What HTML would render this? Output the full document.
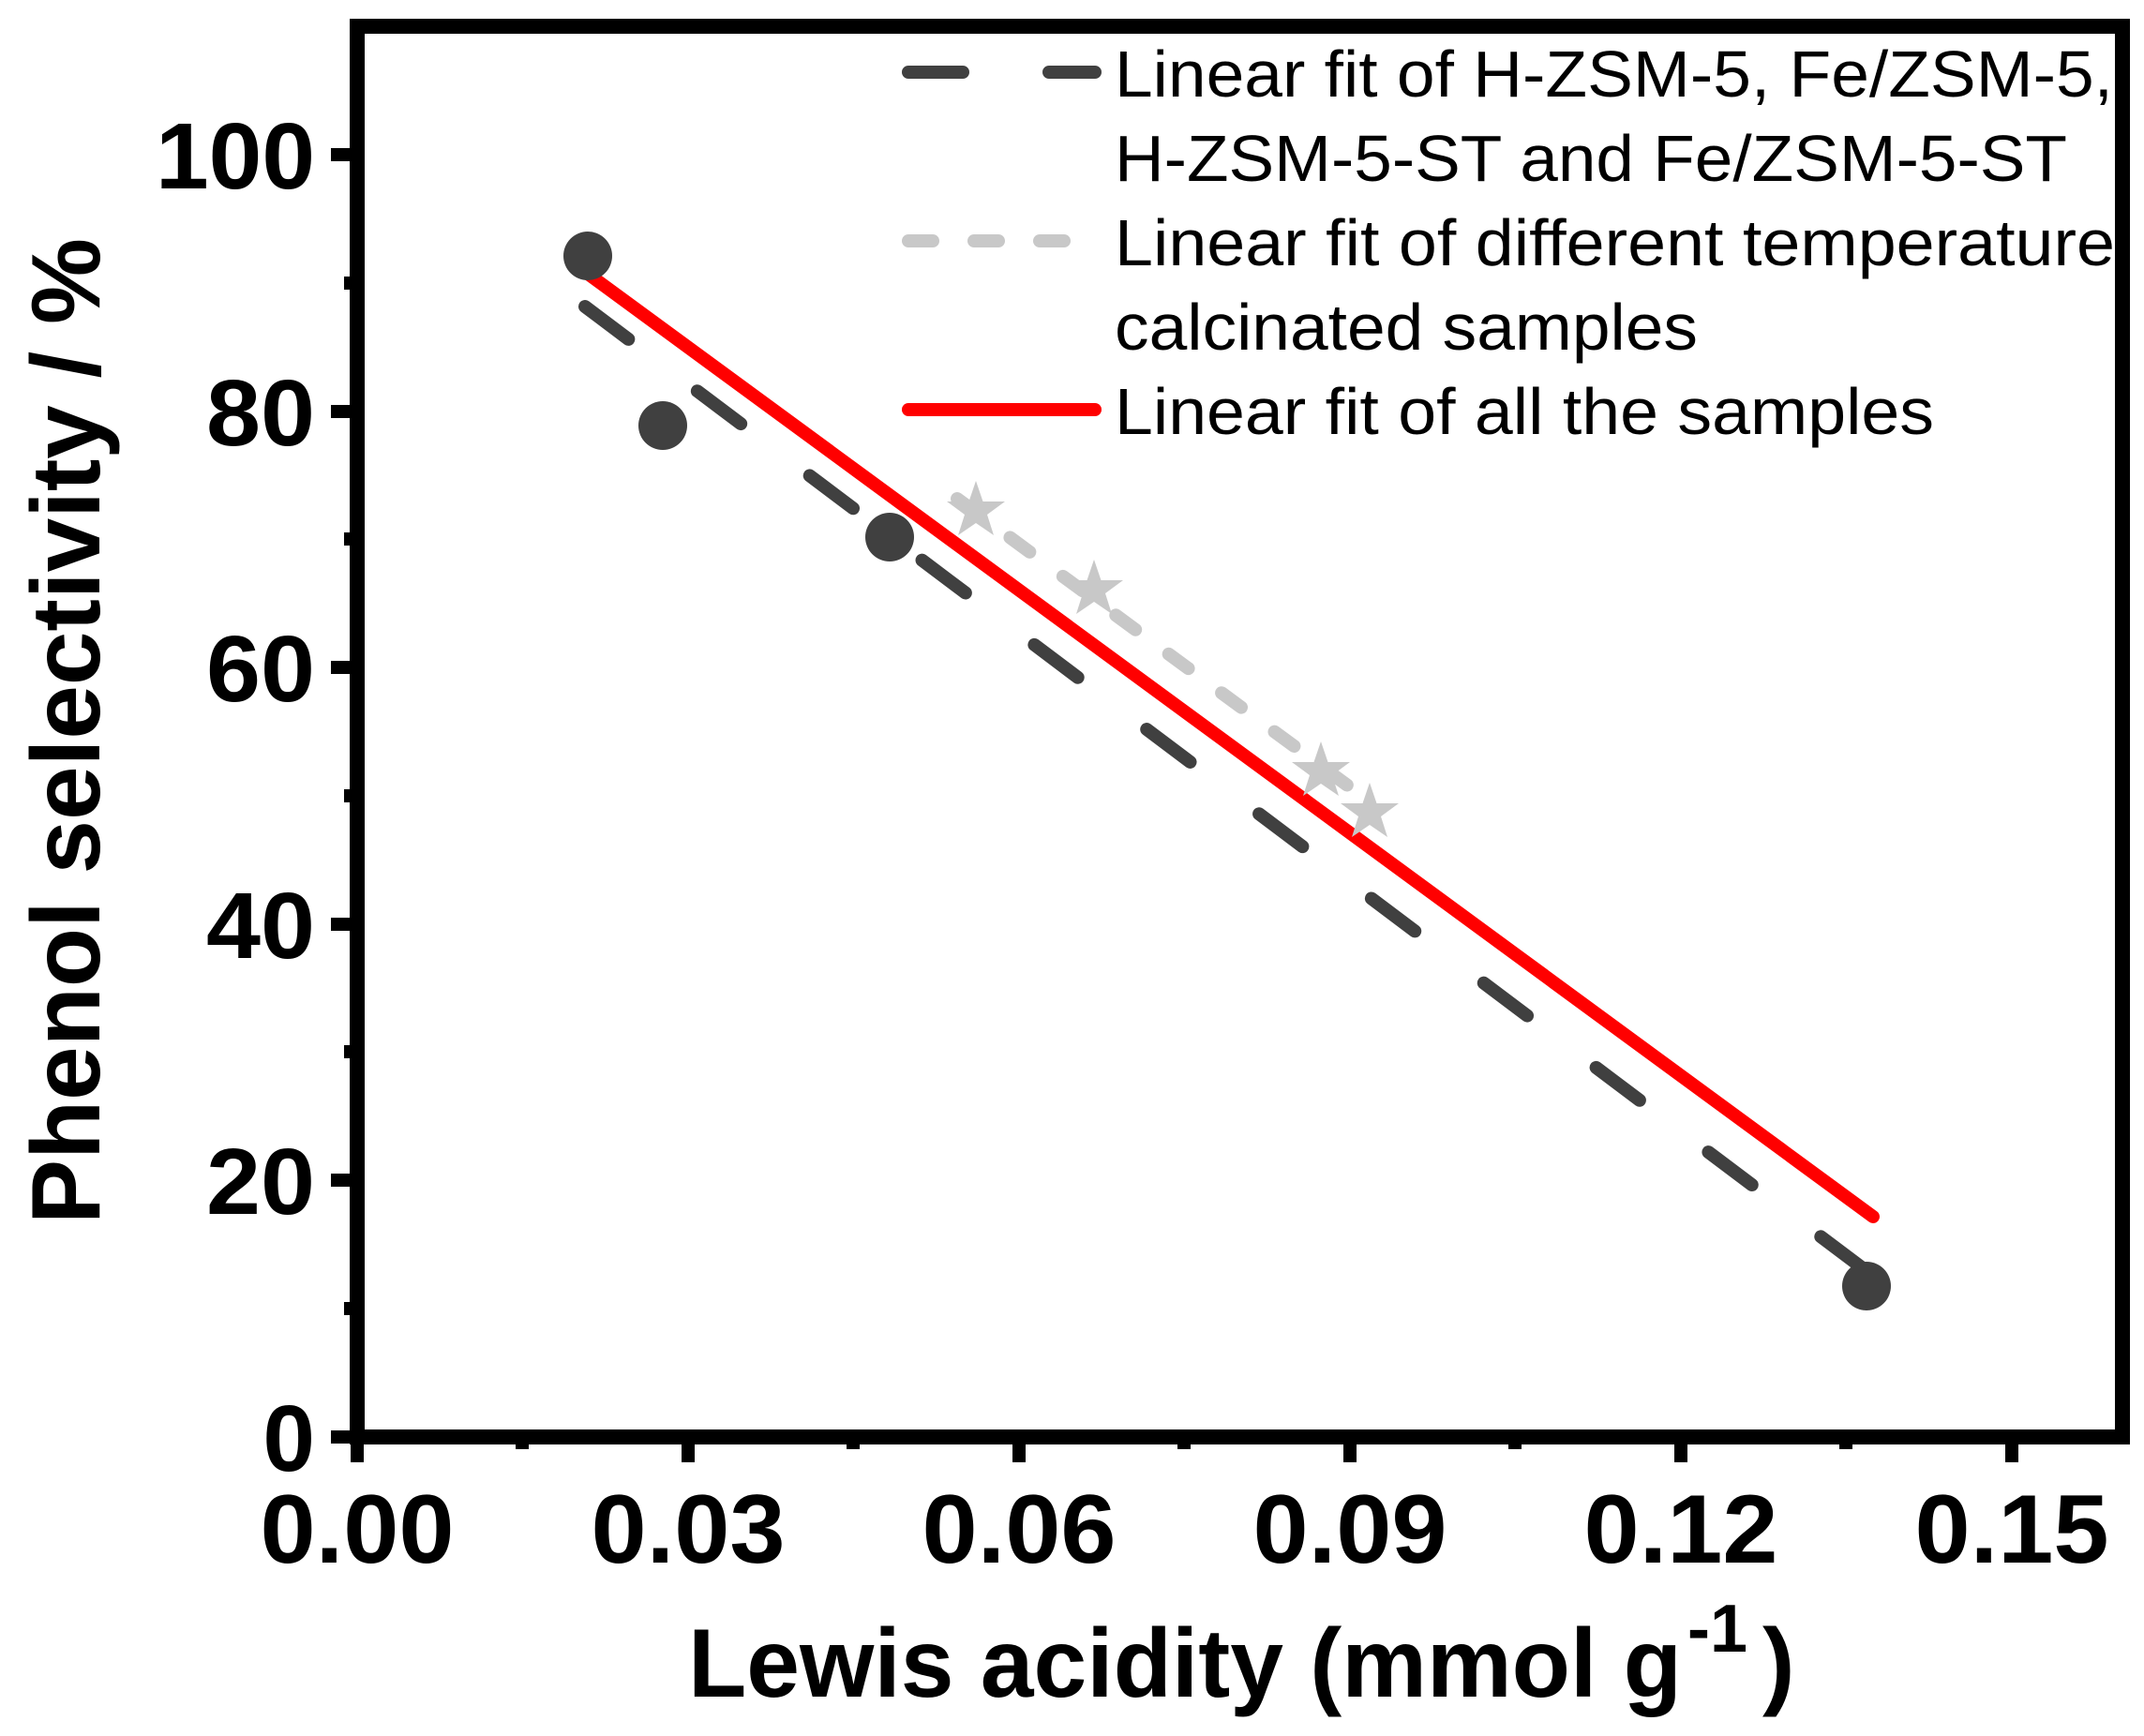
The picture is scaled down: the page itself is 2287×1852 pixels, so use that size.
<!DOCTYPE html>
<html><head><meta charset="utf-8"><style>html,body{margin:0;padding:0;background:#fff}svg{display:block}</style></head>
<body>
<svg width="2287" height="1852" viewBox="0 0 2287 1852" xmlns="http://www.w3.org/2000/svg">
<rect width="2287" height="1852" fill="#fff"/>
<!-- frame -->
<rect x="381" y="28" width="1883" height="1505" fill="none" stroke="#000" stroke-width="16"/>
<!-- x ticks -->
<g stroke="#000" stroke-width="14">
<line x1="381" y1="1533" x2="381" y2="1560"/>
<line x1="734" y1="1533" x2="734" y2="1560"/>
<line x1="1087" y1="1533" x2="1087" y2="1560"/>
<line x1="1440" y1="1533" x2="1440" y2="1560"/>
<line x1="1793" y1="1533" x2="1793" y2="1560"/>
<line x1="2146" y1="1533" x2="2146" y2="1560"/>
<line x1="557" y1="1533" x2="557" y2="1546"/>
<line x1="910" y1="1533" x2="910" y2="1546"/>
<line x1="1263" y1="1533" x2="1263" y2="1546"/>
<line x1="1616" y1="1533" x2="1616" y2="1546"/>
<line x1="1969" y1="1533" x2="1969" y2="1546"/>
</g>
<!-- y ticks -->
<g stroke="#000" stroke-width="14">
<line x1="353" y1="1533" x2="381" y2="1533"/>
<line x1="353" y1="1259" x2="381" y2="1259"/>
<line x1="353" y1="986" x2="381" y2="986"/>
<line x1="353" y1="712" x2="381" y2="712"/>
<line x1="353" y1="439" x2="381" y2="439"/>
<line x1="353" y1="165" x2="381" y2="165"/>
<line x1="367" y1="1396" x2="381" y2="1396"/>
<line x1="367" y1="1122" x2="381" y2="1122"/>
<line x1="367" y1="849" x2="381" y2="849"/>
<line x1="367" y1="575" x2="381" y2="575"/>
<line x1="367" y1="302" x2="381" y2="302"/>
</g>
<!-- tick labels -->
<g font-family="Liberation Sans, sans-serif" font-weight="bold" font-size="104" fill="#000" text-anchor="middle">
<text x="381" y="1667" textLength="207" lengthAdjust="spacingAndGlyphs">0.00</text>
<text x="734" y="1667" textLength="207" lengthAdjust="spacingAndGlyphs">0.03</text>
<text x="1087" y="1667" textLength="207" lengthAdjust="spacingAndGlyphs">0.06</text>
<text x="1440" y="1667" textLength="207" lengthAdjust="spacingAndGlyphs">0.09</text>
<text x="1793" y="1667" textLength="207" lengthAdjust="spacingAndGlyphs">0.12</text>
<text x="2146" y="1667" textLength="207" lengthAdjust="spacingAndGlyphs">0.15</text>
</g>
<g font-family="Liberation Sans, sans-serif" font-weight="bold" font-size="100" fill="#000" text-anchor="end">
<text x="336" y="1569">0</text>
<text x="336" y="1295" textLength="116" lengthAdjust="spacingAndGlyphs">20</text>
<text x="336" y="1022" textLength="116" lengthAdjust="spacingAndGlyphs">40</text>
<text x="336" y="748" textLength="116" lengthAdjust="spacingAndGlyphs">60</text>
<text x="336" y="475" textLength="116" lengthAdjust="spacingAndGlyphs">80</text>
<text x="336" y="201" textLength="170" lengthAdjust="spacingAndGlyphs">100</text>
</g>
<!-- axis titles -->
<text transform="translate(106,1306) rotate(-90)" font-family="Liberation Sans, sans-serif" font-weight="bold" font-size="104" textLength="1052" lengthAdjust="spacingAndGlyphs">Phenol selectivity / %</text>
<text x="734" y="1810" font-family="Liberation Sans, sans-serif" font-weight="bold" font-size="104" textLength="1060" lengthAdjust="spacingAndGlyphs">Lewis acidity (mmol g</text>
<text x="1800" y="1762" font-family="Liberation Sans, sans-serif" font-weight="bold" font-size="72">-1</text>
<text x="1880" y="1810" font-family="Liberation Sans, sans-serif" font-weight="bold" font-size="104">)</text>
<!-- fit lines -->
<line x1="624" y1="327" x2="1991" y2="1356" stroke="#404040" stroke-width="14" stroke-linecap="round" stroke-dasharray="58 92"/>
<line x1="1021" y1="532" x2="1458" y2="853" stroke="#c8c8c8" stroke-width="14" stroke-linecap="round" stroke-dasharray="26 44"/>
<line x1="627" y1="292" x2="1998" y2="1298" stroke="#ff0000" stroke-width="14" stroke-linecap="round"/>
<!-- circles -->
<g fill="#404040">
<circle cx="627" cy="273" r="26"/>
<circle cx="707" cy="454" r="26"/>
<circle cx="949" cy="573" r="26"/>
<circle cx="1991" cy="1372" r="26"/>
</g>
<!-- stars -->
<defs><polygon id="st" points="0,-32 7.5,-10 31,-10 12,4 19,26 0,13 -19,26 -12,4 -31,-10 -7.5,-10"/></defs>
<g fill="#c8c8c8">
<use href="#st" x="1041" y="545"/>
<use href="#st" x="1167" y="629"/>
<use href="#st" x="1409" y="823"/>
<use href="#st" x="1461" y="867"/>
</g>
<!-- legend -->
<line x1="969" y1="77" x2="1168" y2="77" stroke="#404040" stroke-width="14" stroke-linecap="round" stroke-dasharray="58 92"/>
<line x1="969" y1="257" x2="1168" y2="257" stroke="#c8c8c8" stroke-width="14" stroke-linecap="round" stroke-dasharray="26 44"/>
<line x1="969" y1="437" x2="1168" y2="437" stroke="#ff0000" stroke-width="14" stroke-linecap="round"/>
<g font-family="Liberation Sans, sans-serif" font-size="70" fill="#000">
<text x="1189" y="103" textLength="1065" lengthAdjust="spacingAndGlyphs">Linear fit of H-ZSM-5, Fe/ZSM-5,</text>
<text x="1189" y="193" textLength="1016" lengthAdjust="spacingAndGlyphs">H-ZSM-5-ST and Fe/ZSM-5-ST</text>
<text x="1189" y="283" textLength="1067" lengthAdjust="spacingAndGlyphs">Linear fit of different temperature</text>
<text x="1189" y="373" textLength="622" lengthAdjust="spacingAndGlyphs">calcinated samples</text>
<text x="1189" y="463" textLength="874" lengthAdjust="spacingAndGlyphs">Linear fit of all the samples</text>
</g>
</svg>
</body></html>
